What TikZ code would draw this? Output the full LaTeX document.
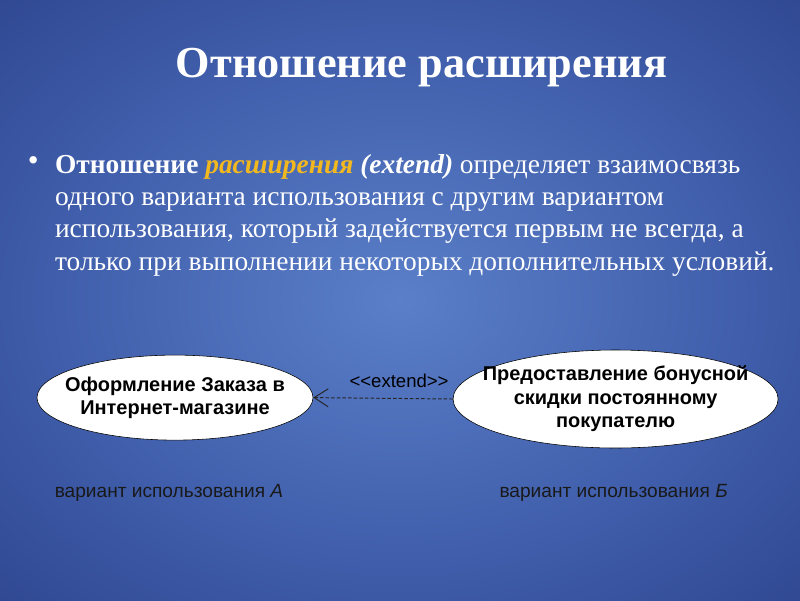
\documentclass[tikz,border=0pt]{standalone}
\usepackage{fontspec}
\setmainfont{Liberation Serif}
\newfontfamily\diagfont{Liberation Sans}
\usetikzlibrary{arrows.meta,shapes.geometric}

\definecolor{bgcenter}{HTML}{5B7FC9}
\definecolor{bgmid}{HTML}{3F5DAA}
\definecolor{bgedge}{HTML}{22337A}
\definecolor{bgcorner}{HTML}{1A2862}
\definecolor{keyword}{HTML}{F2B81E}
\pgfdeclareradialshading{slidebg}{\pgfpoint{0bp}{0bp}}{color(0bp)=(bgcenter); color(22bp)=(bgmid); color(50bp)=(bgedge); color(72bp)=(bgcorner)}

\begin{document}
\begin{tikzpicture}[>=Stealth,
    usecase/.style={ellipse, draw=black, fill=white, inner xsep=-0.7cm, inner ysep=-0.1cm, align=center,
        font=\diagfont\fontsize{14.2}{16.7}\selectfont\bfseries},
    caption/.style={font=\diagfont\fontsize{13.6}{16}\selectfont, text=black!90},
    extendarrow/.style={draw=black!85, line width=0.7pt, dash pattern=on 2.5pt off 1.5pt,
        arrows={-Straight Barb[length=0.35cm, width=0.45cm]}}]

    % Background
    \useasboundingbox (0,0) rectangle (20,-15);
    \shade[shading=slidebg] (0,0) rectangle (20,-15);

    % Title and text
    \node[text=white, font=\fontsize{31.5}{36}\selectfont\bfseries] (title) at (10.54,-1.68) {Отношение расширения};
    \node[text=white, font=\fontsize{22}{22}\selectfont] (dot) at (0.83,-4.1) {\textbullet};
    \node[text=white, anchor=west, align=left, inner sep=0pt,
        font=\fontsize{19.5}{22.9}\selectfont] (body) at (1.37,-5.38)
        {\textbf{Отношение} \textcolor{keyword}{\textbf{\textit{расширения}}} \textbf{\textit{(extend)}} определяет взаимосвязь\\
         одного варианта использования с другим вариантом\\
         использования, который задействуется первым не всегда, а\\
         только при выполнении некоторых дополнительных условий.};

    % Use cases
    \node[usecase, minimum width=6.9cm, minimum height=2.125cm] (order) at (4.375,-9.94)
        {Оформление Заказа в\\Интернет-магазине};
    \node[usecase, minimum width=8.125cm, minimum height=2.45cm] (bonus) at (15.39,-9.975)
        {Предоставление бонусной\\скидки постоянному\\покупателю};

    % Relation
    \draw[extendarrow] (bonus.west) -- (order.east)
        node[midway, above=4pt, xshift=0.4cm, font=\diagfont\fontsize{13.2}{15}\selectfont, text=black] (stereo) {<<extend>>};

    % Captions
    \node[caption] (capA) at (4.225,-12.33) {вариант использования \textit{А}};
    \node[caption] (capB) at (15.34,-12.33) {вариант использования \textit{Б}};
\end{tikzpicture}
\end{document}
